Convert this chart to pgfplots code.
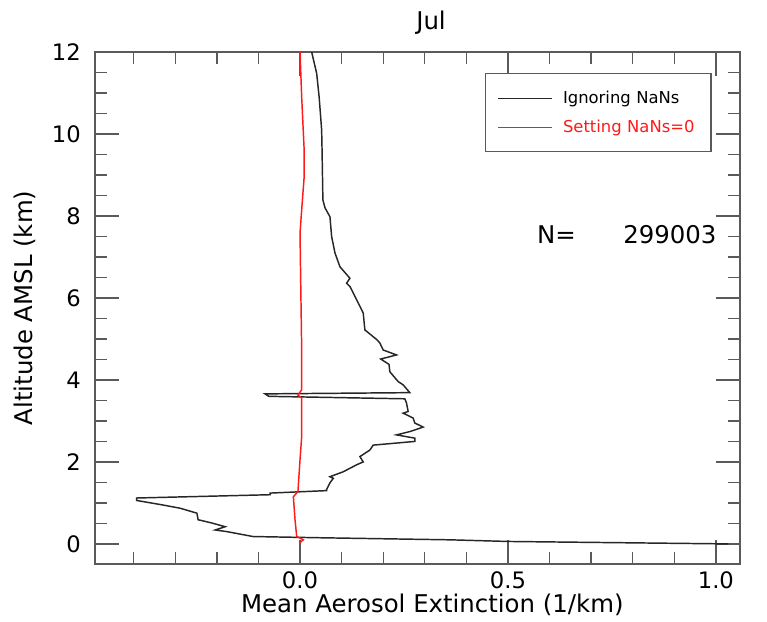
\documentclass[border=0pt]{standalone}
\usepackage{fontspec}
\setmainfont{DejaVu Sans}
\usepackage{pgfplots}
\pgfplotsset{compat=1.18}
\usetikzlibrary{calc}
\definecolor{axisgray}{HTML}{5A5A5A}
\definecolor{profred}{HTML}{FF1A1A}
\newcommand{\ticksize}{\fontsize{17}{20}\selectfont}
\newcommand{\labsize}{\fontsize{18.3}{22}\selectfont}
\newcommand{\legsize}{\fontsize{12.3}{14}\selectfont}

% mean extinction profiles, x = extinction (1/km), y = altitude (km)
\pgfplotstableread{
x y
1.03 0.00
0.50 0.06
0.36 0.10
0.05 0.15
-0.113 0.18
-0.176 0.30
-0.204 0.34
-0.180 0.42
-0.212 0.51
-0.245 0.59
-0.248 0.75
-0.288 0.87
-0.330 0.95
-0.393 1.06
-0.393 1.12
-0.072 1.20
-0.072 1.24
0.064 1.30
0.064 1.33
0.072 1.49
0.080 1.60
0.072 1.64
0.104 1.76
0.136 1.93
0.152 2.00
0.144 2.13
0.168 2.29
0.176 2.41
0.276 2.50
0.276 2.58
0.232 2.66
0.264 2.74
0.276 2.78
0.296 2.85
0.276 2.95
0.272 3.07
0.248 3.19
0.260 3.23
0.256 3.44
0.252 3.54
-0.075 3.60
-0.084 3.66
0.264 3.69
0.248 3.88
0.236 3.96
0.216 4.20
0.214 4.38
0.194 4.51
0.232 4.61
0.200 4.73
0.192 4.90
0.185 4.98
0.156 5.22
0.152 5.63
0.140 5.88
0.120 6.28
0.112 6.36
0.120 6.48
0.096 6.76
0.084 7.10
0.076 7.50
0.072 7.98
0.060 8.20
0.055 8.39
0.053 9.60
0.052 10.10
0.046 10.90
0.040 11.48
0.028 12.00
}\ignoring

\pgfplotstableread{
x y
-0.002 0.02
0.008 0.10
-0.008 0.18
-0.012 0.59
-0.016 1.15
-0.005 1.28
0.000 2.05
0.004 2.62
0.004 3.56
-0.005 3.63
0.004 3.76
0.004 4.73
0.000 7.58
0.004 8.15
0.010 8.96
0.010 9.60
0.004 10.90
0.000 12.00
}\setzero

\begin{document}
\begin{tikzpicture}
\begin{axis}[name=ax, scale only axis, width=483.75pt, height=384pt,
  xmin=-0.493, xmax=1.058, ymin=-0.49, ymax=12,
  xtick={0,0.5,1}, minor xtick={-0.4,-0.3,...,0.95},
  ytick={0,2,...,12}, minor ytick={0.5,1,...,11.5},
  tick pos=both, tick align=inside,
  major tick length=18pt, minor tick length=9pt,
  axis line style={axisgray, line width=1pt},
  tick style={axisgray, line width=1pt},
  /pgf/number format/assume math mode=true,
  tick label style={font=\ticksize, inner sep=0pt},
  xticklabel style={/pgf/number format/fixed, /pgf/number format/fixed zerofill,
    /pgf/number format/precision=1, anchor=base, yshift=-18pt},
  yticklabel style={anchor=east, xshift=-10.5pt},
  xlabel={Mean Aerosol Extinction (1/km)}, ylabel={Altitude AMSL (km)},
  label style={font=\labsize},
  xlabel style={at={(axis description cs:0.523,0)}, anchor=base, inner sep=0pt, yshift=-36pt},
  ylabel style={at={(axis description cs:-0.1085,0.5)}, anchor=center},
  title={Jul},
  title style={font=\labsize, at={(axis description cs:0.521,1)}, anchor=base, yshift=10.5pt},
  legend style={at={(0.605,0.959)}, anchor=north west, draw=axisgray, line width=0.8pt,
    font=\legsize, inner xsep=9pt, inner ysep=11pt, row sep=7pt},
  legend cell align=left,
  legend image code/.code={\draw[#1, line width=0.8pt] (0pt,0pt) -- (40pt,0pt);
    \path (46pt,0pt);},
]
\addplot[black!85, line width=1.1pt] table[x=x, y=y] {\ignoring};
\addlegendentry[text width=100pt]{Ignoring NaNs}
\addplot[profred, line width=1.1pt] table[x=x, y=y] {\setzero};
\addlegendentry[text width=100pt, text=profred]{Setting NaNs=0}
\node[anchor=west, font=\labsize, inner sep=0pt] at (rel axis cs:0.685,0.643) {N=};
\node[anchor=east, font=\labsize, inner sep=0pt] at (rel axis cs:0.964,0.643) {299003};
\end{axis}
\pgfresetboundingbox
\path[use as bounding box] ($(ax.south west)+(-71.25pt,-42.75pt)$) rectangle ($(ax.north east)+(20.25pt,39pt)$);
\end{tikzpicture}
\end{document}
